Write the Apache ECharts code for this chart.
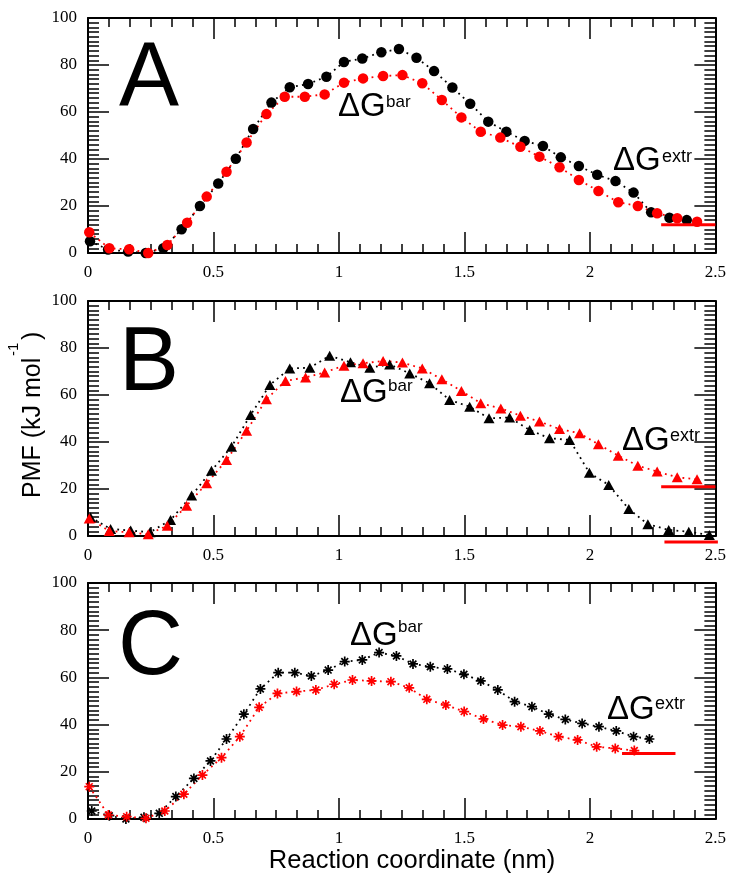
<!DOCTYPE html>
<html><head><meta charset="utf-8">
<script src="https://cdn.jsdelivr.net/npm/echarts@6/dist/echarts.min.js"></script>
<style>html,body{margin:0;padding:0;background:#fff}#c{width:729px;height:877px}</style>
</head><body><div id="c"></div>
<script>
// ---------- data ----------
const xTickLabels = ['0', '0.5', '1', '1.5', '2', '2.5'];
const yTickLabels = ['0', '20', '40', '60', '80', '100'];
const panelLetters = ['A', 'B', 'C'];

// Panel A (circles)
const aBlackX = [0.008,0.08,0.16,0.23,0.300,0.373,0.446,0.519,0.589,0.658,0.731,0.804,0.877,0.950,1.020,1.093,1.169,1.239,1.309,1.379,1.452,1.523,1.595,1.667,1.740,1.813,1.884,1.956,2.029,2.102,2.174,2.244,2.317,2.386];
const aBlackY = [5,1.5,0.6,0,2.0,10.1,20.0,29.6,40.1,52.8,64.0,70.5,71.9,75.0,81.3,82.8,85.4,86.8,83.1,77.4,70.4,63.5,55.9,51.6,47.7,45.5,40.7,37.0,33.3,30.6,25.7,17.3,15.0,14.0];
const aRedX = [0.005,0.085,0.164,0.240,0.316,0.395,0.473,0.552,0.632,0.711,0.784,0.864,0.943,1.020,1.096,1.176,1.253,1.332,1.410,1.488,1.565,1.643,1.723,1.799,1.879,1.956,2.034,2.113,2.191,2.268,2.348,2.427];
const aRedY = [8.8,2.0,1.6,0,3.4,12.9,24.0,34.6,47.0,59.1,66.5,66.5,67.5,72.5,74.3,75.3,75.7,72.2,65.1,57.7,51.6,49.1,45.2,41.0,36.5,31.1,26.4,21.6,20.0,16.9,14.8,13.3];
const aExtrLines = [[[2.284, 12], [2.5, 12]]];

// Panel B (triangles)
const bBlackX = [0.01,0.090,0.170,0.247,0.329,0.413,0.492,0.572,0.648,0.725,0.804,0.884,0.963,1.046,1.123,1.202,1.282,1.361,1.441,1.521,1.598,1.680,1.760,1.839,1.919,1.998,2.075,2.155,2.231,2.314,2.394,2.476];
const bBlackY = [8,3.0,2.3,1.6,6.8,17.2,27.8,38.0,51.5,64.3,71.3,71.6,76.7,73.9,71.6,73.0,69.2,65.0,57.9,55.0,50.1,50.4,45.1,41.6,40.9,26.9,21.7,11.5,5.0,2.6,1.8,0.4];
const bRedX = [0.005,0.085,0.164,0.240,0.316,0.393,0.473,0.552,0.632,0.711,0.787,0.867,0.943,1.020,1.096,1.176,1.253,1.332,1.410,1.488,1.565,1.645,1.723,1.799,1.879,1.959,2.034,2.113,2.191,2.268,2.348,2.427];
const bRedY = [7.5,2.1,1.6,0.7,4.4,12.9,22.4,32.3,44.8,58.2,66.0,67.5,69.6,72.5,73.5,74.5,73.8,71.3,66.7,61.7,56.5,54.3,51.2,48.7,45.5,43.7,39.0,34.2,29.9,27.4,25.0,24.1];
const bExtrLines = [[[2.284, 21], [2.5, 21]], [[2.297, -2.5], [2.51, -2.5]]];

// Panel C (asterisks)
const cBlackX = [0.015,0.085,0.151,0.223,0.284,0.350,0.422,0.488,0.552,0.621,0.687,0.758,0.824,0.890,0.957,1.023,1.093,1.160,1.229,1.295,1.364,1.432,1.498,1.565,1.633,1.700,1.769,1.836,1.902,1.969,2.036,2.105,2.174,2.237];
const cBlackY = [3.4,1.4,0,0.7,2.4,9.5,17.2,24.6,33.9,44.4,55.1,62.0,62.0,60.6,63.1,66.7,67.4,70.5,69.1,65.7,64.5,63.6,61.3,58.5,54.7,49.7,47.6,44.4,42.2,40.5,39.1,37.3,34.9,33.9];
const cRedX = [0.005,0.081,0.154,0.231,0.306,0.382,0.456,0.532,0.605,0.682,0.755,0.831,0.908,0.981,1.054,1.130,1.207,1.280,1.350,1.426,1.499,1.576,1.652,1.725,1.801,1.875,1.951,2.027,2.101,2.177];
const cRedY = [13.7,1.7,1.0,0.3,3.4,10.5,18.6,26.0,34.9,47.3,53.2,54.0,54.7,57.1,58.9,58.5,58.2,55.6,50.7,48.3,45.5,42.4,39.8,39.1,37.3,34.9,33.5,30.6,29.9,29.0];
const cExtrLines = [[[2.128, 27.8], [2.341, 27.8]]];

// ---------- layout / style ----------
const BLACK = '#000000', RED = '#ff0000';
const grids = [
  {left: 88, right: 13, top: 18, height: 235},
  {left: 88, right: 13, top: 301, height: 235},
  {left: 88, right: 13, top: 583, height: 236}
];
const asterisk = 'path://M0,5L10,5M5,0L5,10M1.6,1.6L8.4,8.4M8.4,1.6L1.6,8.4';
const symbols = [
  {symbol: 'circle', size: 10.5},
  {symbol: 'triangle', size: [11, 10]},
  {symbol: asterisk, size: 10}
];
const panels = [
  {bx: aBlackX, by: aBlackY, rx: aRedX, ry: aRedY, lines: aExtrLines},
  {bx: bBlackX, by: bBlackY, rx: bRedX, ry: bRedY, lines: bExtrLines},
  {bx: cBlackX, by: cBlackY, rx: cRedX, ry: cRedY, lines: cExtrLines}
];

const zip = (xs, ys) => xs.map((x, i) => [x, ys[i]]);
const serifFont = 'Liberation Serif';
const sansFont = 'Liberation Sans';

function xAxis(gi, pos) {
  return {
    gridIndex: gi, type: 'value', min: 0, max: 2.5, interval: 0.5, position: pos,
    axisLine: {show: true, onZero: false, lineStyle: {color: BLACK, width: 2}},
    axisTick: {show: true, inside: true, length: 21, lineStyle: {color: BLACK, width: 1.5}},
    minorTick: {show: true, splitNumber: 6, length: 9, lineStyle: {color: BLACK, width: 1.5}},
    splitLine: {show: false}, minorSplitLine: {show: false},
    axisLabel: {show: pos === 'bottom', margin: 11, fontFamily: serifFont, fontSize: 17, color: BLACK,
      formatter: v => xTickLabels[Math.round(v / 0.5)]}
  };
}
function yAxis(gi, pos) {
  return {
    gridIndex: gi, type: 'value', min: 0, max: 100, interval: 20, position: pos,
    axisLine: {show: true, onZero: false, lineStyle: {color: BLACK, width: 2}},
    axisTick: {show: true, inside: true, length: 21, lineStyle: {color: BLACK, width: 1.5}},
    minorTick: {show: true, splitNumber: 10, length: 11, lineStyle: {color: BLACK, width: 1.5}},
    splitLine: {show: false}, minorSplitLine: {show: false},
    axisLabel: {show: pos === 'left', margin: 11, fontFamily: serifFont, fontSize: 17, color: BLACK,
      formatter: v => yTickLabels[Math.round(v / 20)]}
  };
}

const xAxes = [], yAxes = [], series = [];
panels.forEach((p, gi) => {
  xAxes.push(xAxis(gi, 'bottom'), xAxis(gi, 'top'));
  yAxes.push(yAxis(gi, 'left'), yAxis(gi, 'right'));
  const sym = symbols[gi];
  [[p.bx, p.by, BLACK], [p.rx, p.ry, RED]].forEach(([xs, ys, col]) => {
    series.push({
      type: 'line', xAxisIndex: 2 * gi, yAxisIndex: 2 * gi,
      data: zip(xs, ys), symbol: sym.symbol, symbolSize: sym.size, showSymbol: true,
      lineStyle: {color: col, width: 1.8, type: [1.8, 4.2]},
      itemStyle: gi === 2 ? {color: col, borderColor: col, borderWidth: 1.7} : {color: col, borderWidth: 0},
      silent: true, clip: false, z: 3
    });
  });
  p.lines.forEach(seg => {
    series.push({
      type: 'line', xAxisIndex: 2 * gi, yAxisIndex: 2 * gi,
      data: seg, symbol: 'none', lineStyle: {color: RED, width: 3, type: 'solid'},
      silent: true, clip: false, z: 4
    });
  });
});

function txt(x, y, text, size, opts) {
  opts = opts || {};
  return {
    type: 'text', x: x, y: y, rotation: opts.rotation || 0, silent: true, z: 10,
    style: {text: text, fontSize: size, fontFamily: opts.font || sansFont, fill: BLACK,
      align: opts.align || 'left', verticalAlign: 'middle',
      textAlign: opts.align || 'left', textVerticalAlign: 'middle'}
  };
}

const graphics = [
  txt(119, 80, panelLetters[0], 90),
  txt(119, 365, panelLetters[1], 90),
  txt(118, 649, panelLetters[2], 90),
  // ΔG bar / extr labels
  txt(338, 107, 'ΔG', 33), txt(386, 102, 'bar', 17),
  txt(613, 161, 'ΔG', 33), txt(662, 157, 'extr', 18),
  txt(340, 393, 'ΔG', 33), txt(388, 386, 'bar', 17),
  txt(622, 441, 'ΔG', 33), txt(670, 436, 'extr', 18),
  txt(350, 636, 'ΔG', 33), txt(398, 627, 'bar', 17),
  txt(607, 710, 'ΔG', 33), txt(655, 704, 'extr', 18),
  // axis titles
  txt(412, 861, 'Reaction coordinate (nm)', 25.5, {align: 'center'}),
  txt(33, 498, 'PMF (kJ mol', 25, {rotation: Math.PI / 2}),
  txt(14, 356, '-1', 15, {rotation: Math.PI / 2}),
  txt(33, 340, ')', 25, {rotation: Math.PI / 2})
];

const chart = echarts.init(document.getElementById('c'), null, {renderer: 'canvas'});
chart.setOption({
  animation: false,
  backgroundColor: '#ffffff',
  grid: grids,
  xAxis: xAxes,
  yAxis: yAxes,
  series: series,
  graphic: graphics
});
</script>
</body></html>
